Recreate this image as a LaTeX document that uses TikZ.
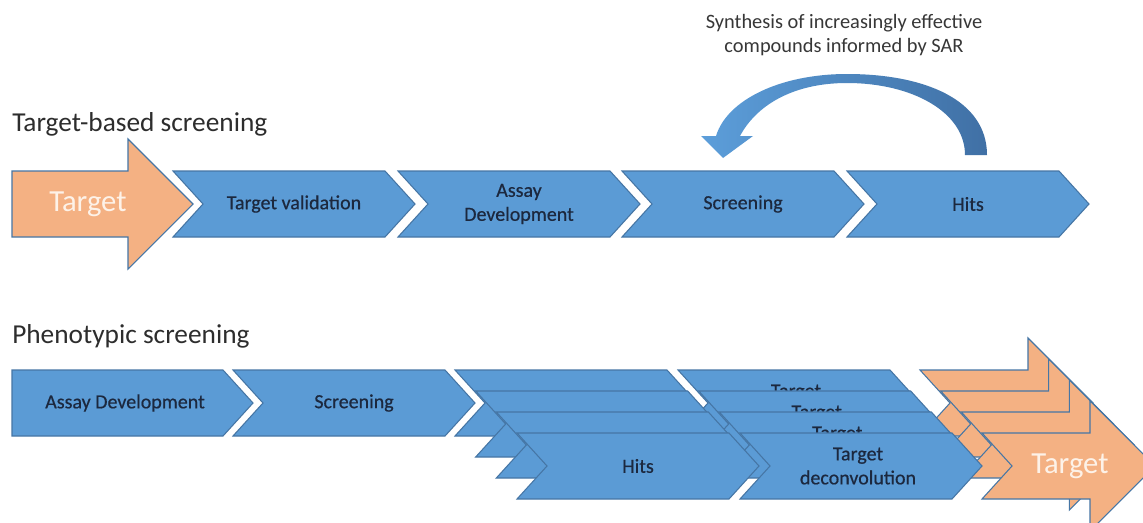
\documentclass[tikz,border=0pt]{standalone}
\usepackage{fontspec}
\setmainfont{Carlito}
\newfontfamily\labelfont[FakeBold=0.5]{Carlito}
\definecolor{chevblue}{RGB}{91,155,213}
\definecolor{chevline}{RGB}{70,118,165}
\definecolor{arroworange}{RGB}{244,177,131}
\definecolor{labeltext}{RGB}{28,40,62}
\definecolor{headtext}{RGB}{45,45,45}
\definecolor{synthtext}{RGB}{55,55,55}
\definecolor{curvelight}{RGB}{92,158,218}
\definecolor{curvedark}{RGB}{64,112,165}
\definecolor{targettext}{RGB}{253,242,232}
\newcommand\drawchev[3]{\draw[#1] (#2,#3) -- ({#2+212},{#3}) -- ({#2+242},{#3+33}) -- ({#2+212},{#3+66}) -- ({#2},{#3+66}) -- ({#2+30},{#3+33}) -- cycle;}
\newcommand\drawnotcharrow[3]{\draw[#1] (#2,#3) -- ({#2+108},{#3}) -- ({#2+108},{#3-32}) -- ({#2+173},{#3+33}) -- ({#2+108},{#3+98}) -- ({#2+108},{#3+66}) -- ({#2},{#3+66}) -- ({#2+30},{#3+33}) -- cycle;}
\tikzset{
  chevbox/.style={fill=chevblue, draw=chevline, line width=0.8pt, line join=miter},
  orangebox/.style={fill=arroworange, draw=chevline, line width=0.8pt, line join=miter},
  chevlabel/.style={inner sep=0pt, text=labeltext, align=center, font=\labelfont\fontsize{15}{18}\selectfont},
  biglabel/.style={inner sep=0pt, text=targettext, font=\fontsize{23}{27}\selectfont},
  heading/.style={inner sep=0pt, anchor=base west, text=headtext, font=\fontsize{20.5}{24}\selectfont},
  synthlabel/.style={inner sep=0pt, text=synthtext, align=center, font=\fontsize{15.3}{18}\selectfont}
}
\begin{document}
\begin{tikzpicture}[x=0.75pt, y=-0.75pt]
\clip (0,0) rectangle (1143,522);
\fill[white] (0,0) rectangle (1143,522);

% headings
\node[heading] (h1) at (12,131) {Target-based screening};
\node[heading] (h2) at (12,343) {Phenotypic screening};

% synthesis text and curved arrow
\node[synthlabel] (synth) at (844,35) {Synthesis of increasingly effective\\compounds informed by SAR};
\shade[left color=curvelight, right color=curvedark]
  (987,155) .. controls (987,100) and (925,74) .. (847,74)
  .. controls (780,74) and (727,100) .. (716,136)
  -- (701,136) -- (723,158) -- (753,136) -- (740,136)
  .. controls (756,106) and (792,83) .. (847,83)
  .. controls (912,83) and (965,112) .. (965,155) -- cycle;

% top row
\draw[orangebox] (12,171) -- (128,171) -- (128,139) -- (193,204) -- (128,269) -- (128,237) -- (12,237) -- cycle;
\node[biglabel] (ttarget) at (88,204) {Target};
\drawchev{chevbox}{173}{171}
\node[chevlabel] (tval) at (294,204) {Target validation};
\drawchev{chevbox}{398}{171}
\node[chevlabel] (tassay) at (519,204) {Assay\\Development};
\drawchev{chevbox}{622}{171}
\node[chevlabel] (tscreen) at (743,204) {Screening};
\drawchev{chevbox}{847}{171}
\node[chevlabel] (thits) at (968,204) {Hits};

% bottom row
\draw[chevbox] (12,370) -- (223,370) -- (253,403) -- (223,436) -- (12,436) -- cycle;
\node[chevlabel] (passay) at (125,403) {Assay Development};
\drawchev{chevbox}{233}{370}
\node[chevlabel] (pscreen) at (354,403) {Screening};

\foreach \k in {0,1,2,3} {
  \pgfmathsetmacro\dx{20.67*\k}
  \pgfmathsetmacro\dy{21*\k}
  \drawchev{chevbox}{455+\dx}{370+\dy}
  \ifnum\k=3
    \node[chevlabel] (phits) at ({455+\dx+121},{370+\dy+33}) {Hits};
  \fi
  \drawchev{chevbox}{678+\dx}{370+\dy}
  \node[chevlabel] (pdeconv\k) at ({678+\dx+118},{370+\dy+33}) {Target\\deconvolution};
  \drawnotcharrow{orangebox}{920+\dx}{370+\dy}
  \ifnum\k=3
    \node[biglabel] (ptarget) at ({920+\dx+88},{370+\dy+33}) {Target};
  \fi
}
\end{tikzpicture}
\end{document}
